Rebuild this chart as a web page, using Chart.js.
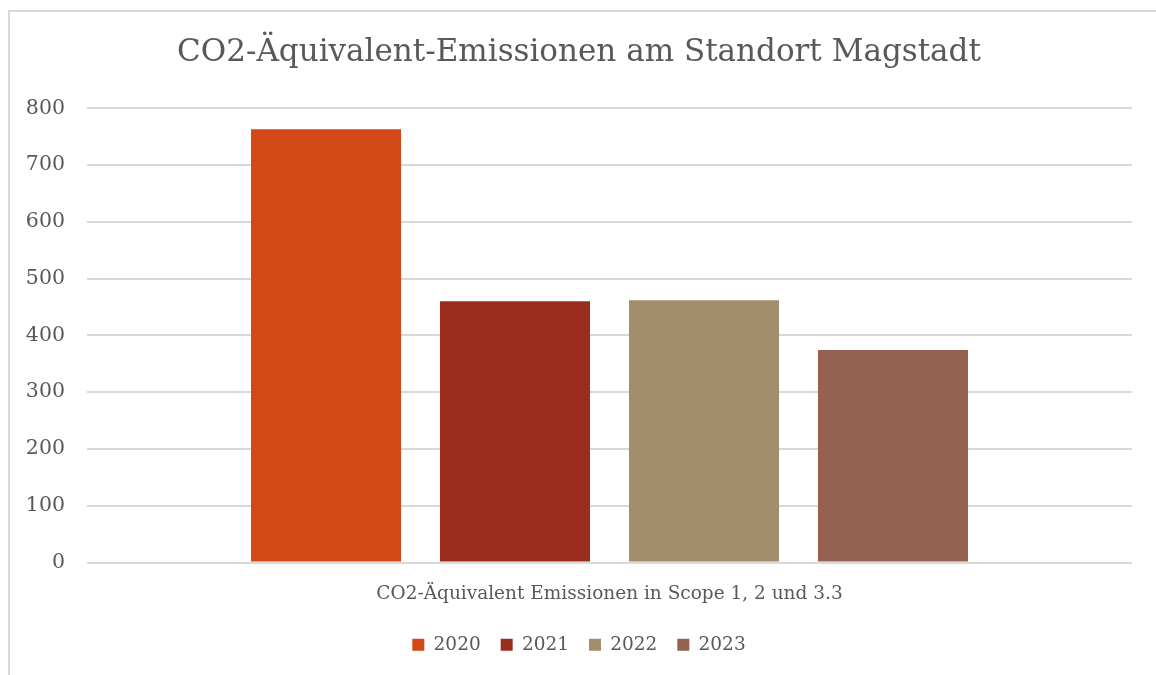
<!DOCTYPE html>
<html>
<head>
<meta charset="utf-8">
<script src="https://cdn.jsdelivr.net/npm/chart.js@4"></script>
<style>
  html, body { margin: 0; padding: 0; background: #fff; overflow: hidden; }
  #frame {
    position: absolute; left: 8px; top: 10px; width: 1300px; height: 800px;
    border-top: 2px solid #d9d9d9; border-left: 2px solid #d9d9d9;
  }
  #chart { position: absolute; left: 0; top: 0; }
</style>
</head>
<body>
<div id="frame"></div>
<canvas id="chart" width="1156" height="675"></canvas>
<script>
"use strict";

// ── data ───────────────────────────────────────────────────────────────────────
const categories = ["CO2-Äquivalent Emissionen in Scope 1, 2 und 3.3"];
const years      = ["2020", "2021", "2022", "2023"];
const emissions  = [763, 460, 462, 374];
const colors     = ["#d34817", "#9b2d1f", "#a28e6a", "#956251"];
const yTicks     = [0, 100, 200, 300, 400, 500, 600, 700, 800];

const FONT = "'DejaVu Serif', 'Liberation Serif', serif";
const TEXT = "#595959";

Chart.defaults.font.family = FONT;
Chart.defaults.color = TEXT;

new Chart(document.getElementById("chart"), {
  type: "bar",
  data: {
    labels: categories,
    datasets: years.map((y, i) => ({
      label: y,
      data: [emissions[i]],
      backgroundColor: colors[i],
      borderWidth: 0,
      categoryPercentage: 0.7234,
      barPercentage: 0.794,
    })),
  },
  options: {
    responsive: false,
    animation: false,
    // left padding nudges the title centre to the right, like the original
    layout: { padding: { left: 26, right: 24, top: 0, bottom: 11 } },
    plugins: {
      tooltip: { enabled: false },
      title: {
        display: true,
        text: "CO2-Äquivalent-Emissionen am Standort Magstadt",
        color: TEXT,
        font: { size: 31, weight: "normal" },
        padding: { top: 34, bottom: 37 },
      },
      legend: {
        position: "bottom",
        labels: {
          boxWidth: 12, boxHeight: 12, padding: 20,
          color: TEXT, font: { size: 18.5 },
        },
      },
    },
    scales: {
      x: {
        afterFit: s => { s.height = 53; },
        grid: { display: false },
        border: { display: false },
        ticks: { color: TEXT, font: { size: 18.5 }, padding: 13 },
      },
      y: {
        min: 0, max: 800,
        afterFit: s => { s.width = 61; },
        afterBuildTicks: s => { s.ticks = yTicks.map(v => ({ value: v })); },
        grid: { color: "#d9d9d9", lineWidth: 2, drawTicks: false },
        border: { display: false },
        ticks: { color: TEXT, font: { size: 20.5 }, padding: 22 },
      },
    },
  },
});
</script>
</body>
</html>
